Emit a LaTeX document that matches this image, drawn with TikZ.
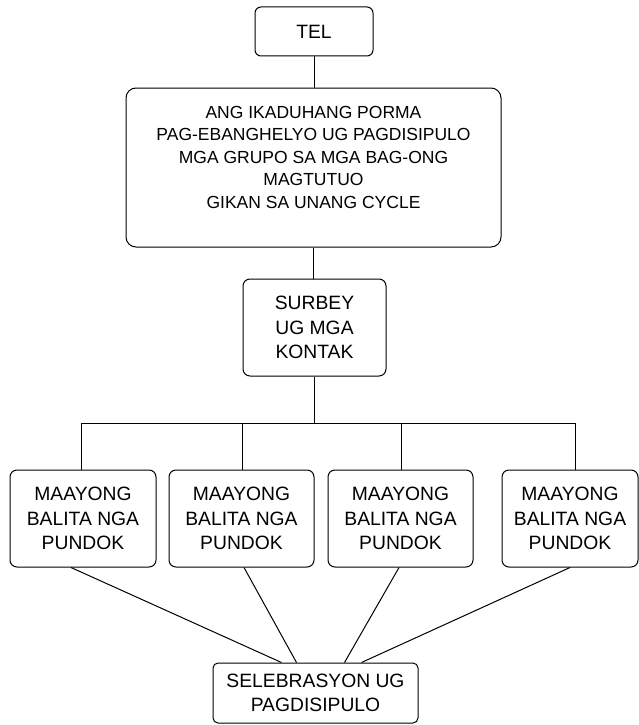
\documentclass[tikz,border=0pt]{standalone}
\usepackage{fontspec}
\setmainfont{Liberation Sans}
\usetikzlibrary{calc}
\begin{document}
\begin{tikzpicture}[x=1pt,y=-1pt,
  box/.style={draw, line width=1pt, rounded corners=7pt, inner sep=0pt, align=center,
              font=\fontsize{19.3}{24.5}\selectfont},
  link/.style={line width=1pt}]
\useasboundingbox (0,0) rectangle (639,725);
\node[box, rounded corners=6pt, minimum width=118pt, minimum height=49pt] (tel) at (314,31.5) {TEL};
\node[box, rounded corners=10pt, minimum width=375pt, minimum height=159pt] (big) at (313.5,167.5) {};
\node[font=\fontsize{17.5}{22.5}\selectfont, align=center, inner sep=0pt] (bigtext) at (313.5,157)
  {ANG IKADUHANG PORMA\\PAG-EBANGHELYO UG PAGDISIPULO\\MGA GRUPO SA MGA BAG-ONG\\MAGTUTUO\\GIKAN SA UNANG CYCLE};
\node[box, minimum width=143pt, minimum height=97pt] (surbey) at (314.5,327.5) {SURBEY\\UG MGA\\KONTAK};
\node[box, minimum width=146pt, minimum height=97pt] (b1) at (83,518.5) {MAAYONG\\BALITA NGA\\PUNDOK};
\node[box, minimum width=145pt, minimum height=97pt] (b2) at (241.5,518.5) {MAAYONG\\BALITA NGA\\PUNDOK};
\node[box, minimum width=145pt, minimum height=97pt] (b3) at (400.5,518.5) {MAAYONG\\BALITA NGA\\PUNDOK};
\node[box, minimum width=136pt, minimum height=97pt] (b4) at (570,518.5) {MAAYONG\\BALITA NGA\\PUNDOK};
\node[box, rounded corners=5pt, minimum width=205pt, minimum height=60pt] (sel) at (315.5,693) {SELEBRASYON UG\\PAGDISIPULO};

\coordinate (h0) at (314,423);
\coordinate (h1) at (81,423);
\coordinate (h2) at (242,423);
\coordinate (h3) at (401,423);
\coordinate (h4) at (575,423);

\draw[link] (tel.south) -- (tel.south |- big.north);
\draw[link] (big.south) -- (big.south |- surbey.north);
\draw[link] (surbey.south) -- (surbey.south |- h0);
\draw[link] (h1) -- (h4);
\draw[link] (h1) -- (h1 |- b1.north);
\draw[link] (h2) -- (h2 |- b2.north);
\draw[link] (h3) -- (h3 |- b3.north);
\draw[link] (h4) -- (h4 |- b4.north);

\draw[link] ($(b1.south)+(-12,0)$) -- ($(sel.north west)+(69,0)$);
\draw[link] ($(b2.south)+(2.5,0)$) -- ($(sel.north west)+(84,0)$);
\draw[link] ($(b3.south)+(-1.5,0)$) -- ($(sel.north west)+(132,0)$);
\draw[link] (b4.south) -- ($(sel.north west)+(149,0)$);
\end{tikzpicture}
\end{document}
